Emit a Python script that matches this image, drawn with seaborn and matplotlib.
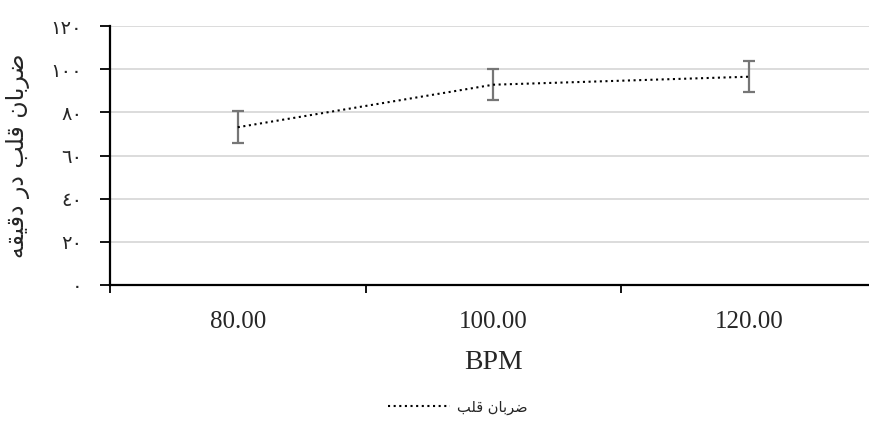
import matplotlib
matplotlib.use("Agg")
import matplotlib.pyplot as plt
import seaborn as sns
import pandas as pd
import numpy as np

# ---- data ----
categories = ["80.00", "100.00", "120.00"]
heart_rate = [73.1, 92.8, 96.5]
errors = [7.3, 7.3, 7.3]
y_ticks = [0, 20, 40, 60, 80, 100, 120]
y_tick_labels = ["٠", "٢٠", "٤٠", "٦٠", "٨٠", "١٠٠", "١٢٠"]
x_title = "BPM"
# "ضربان قلب در دقیقه" written in shaped (presentation) forms, visual order
y_title = "\uFEEA\uFED8\uFEF4\uFED7\uFEA9 \uFEAD\uFEA9 \uFE90\uFEE0\uFED7 \uFEE5\uFE8E\uFE91\uFEAE\uFEBF"
# "ضربان قلب" in shaped forms, visual order
legend_label = "\uFE90\uFEE0\uFED7 \uFEE5\uFE8E\uFE91\uFEAE\uFEBF"

df = pd.DataFrame({"idx": np.arange(len(categories)), "val": heart_rate, "err": errors})

sns.set_style("white")
plt.rcParams["font.family"] = ["DejaVu Sans"]

W, H = 869, 421
fig = plt.figure(figsize=(W / 100, H / 100), dpi=100)
ax = fig.add_axes([110 / W, (H - 285) / H, 766.5 / W, 259 / H])

sns.lineplot(data=df, x="idx", y="val", ax=ax, color="black", lw=1.5,
             dashes=False, label=legend_label, zorder=3)
line = ax.lines[-1]
line.set_linestyle((0, (1, 1.7)))
ax.errorbar(df["idx"], df["val"], yerr=df["err"], fmt="none", ecolor="#767676",
            elinewidth=1.6, capsize=4.2, capthick=1.6, zorder=2)

ax.set_xlim(-0.5, 2.5)
ax.set_ylim(0, 120)

# y axis
ax.set_yticks(y_ticks)
ax.set_yticklabels(y_tick_labels, fontsize=14, family=["DejaVu Sans"])
ax.yaxis.grid(True, color="#d9d9d9", lw=1.3)
ax.set_axisbelow(True)
ax.tick_params(axis="y", which="major", direction="out", length=7, width=1.3,
               color="black", pad=13, left=True)

# x axis: labels at category centers, tick marks at boundaries
ax.set_xticks(df["idx"])
ax.set_xticklabels(categories, fontsize=18, family="Liberation Serif")
ax.tick_params(axis="x", which="major", length=0, pad=19)
ax.set_xticks([-0.5, 0.5, 1.5, 2.5], minor=True)
ax.tick_params(axis="x", which="minor", direction="out", length=6, width=1.3,
               color="black", bottom=True)
ax.xaxis.grid(False)

for s in ["top", "right"]:
    ax.spines[s].set_visible(False)
for s in ["left", "bottom"]:
    ax.spines[s].set_color("black")
    ax.spines[s].set_linewidth(1.6)

ax.set_xlabel(x_title, fontsize=20, family="Liberation Serif", labelpad=12)
ax.set_ylabel(y_title, fontsize=17, family=["DejaVu Sans"], labelpad=15)

ax.get_legend().remove()
handles, labels = ax.get_legend_handles_labels()
fig.legend(handles, labels, loc="center", bbox_to_anchor=(458 / W, 1 - 407 / H),
           frameon=False, markerfirst=True, handlelength=4.2,
           handletextpad=0.5, prop={"family": ["DejaVu Sans"], "size": 10.5})

fig.savefig("out.png", dpi=100)
